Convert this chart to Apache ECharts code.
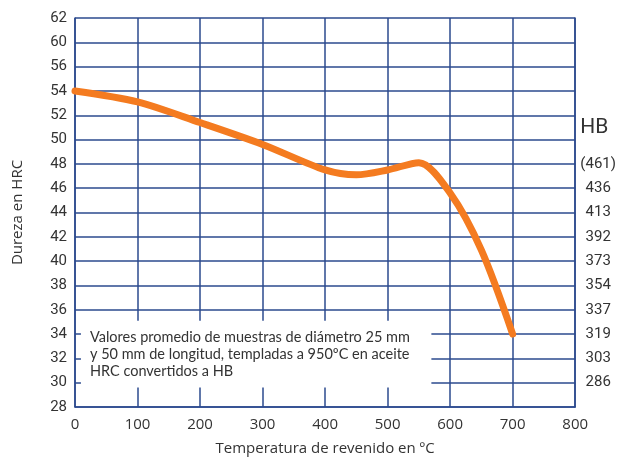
<!DOCTYPE html>
<html>
<head>
<meta charset="utf-8">
<script src="https://cdn.jsdelivr.net/npm/echarts@6/dist/echarts.min.js"></script>
<style>
  html, body { margin: 0; padding: 0; background: #fff; }
  #chart { width: 619px; height: 461px; }
</style>
</head>
<body>
<div id="chart"></div>
<script type="text/javascript">
    // temperatura de revenido (ºC) / dureza HRC
    var temps = [0, 100, 200, 300, 400, 450, 500, 550, 600, 650, 700];
    var hrc   = [54, 53.1, 51.4, 49.6, 47.5, 47.1, 47.5, 48.1, 45.6, 40.9, 34];

    // etiquetas tal como aparecen en el original (sin 58)
    var yTickLabels = ['28', '30', '32', '34', '36', '38', '40', '42', '44', '46', '48', '50', '52', '54', '56', '60', '62'];
    var hbTicks  = [30, 32, 34, 36, 38, 40, 42, 44, 46, 48];
    var hbLabels = ['286', '303', '319', '337', '354', '373', '392', '413', '436', '(461)'];

    var notaLines = [
        'Valores promedio de muestras de diámetro 25 mm',
        'y 50 mm de longitud, templadas a 950ºC en aceite',
        'HRC convertidos a HB'
    ];

    var gridColor = '#2b4a8e';
    var textColor = '#333';

    var chart = echarts.init(document.getElementById('chart'));

    var option = {
        animation: false,
        textStyle: { fontFamily: 'Open Sans' },
        grid: { left: 75, right: 41, top: 18, bottom: 53, containLabel: false },
        xAxis: {
            type: 'value',
            min: 0, max: 800, interval: 100,
            name: 'Temperatura de revenido en ºC',
            nameLocation: 'middle',
            nameGap: 34,
            nameTextStyle: { fontSize: 15, color: textColor, fontFamily: 'Open Sans' },
            axisLine: { show: true, lineStyle: { color: gridColor, width: 1.5 } },
            axisTick: { show: false },
            axisLabel: { fontSize: 15, color: textColor, margin: 10, fontFamily: 'Open Sans' },
            splitLine: { show: true, lineStyle: { color: gridColor, width: 1.5 } }
        },
        yAxis: [{
            type: 'value',
            min: 28, max: 60, interval: 2,
            name: 'Dureza en HRC',
            nameLocation: 'middle',
            nameGap: 50,
            nameTextStyle: { fontSize: 15, color: textColor, fontFamily: 'Open Sans' },
            axisLine: { show: true, lineStyle: { color: gridColor, width: 1.5 } },
            axisTick: { show: false },
            axisLabel: {
                fontSize: 15, color: textColor, margin: 8, fontFamily: 'Roboto',
                formatter: function (v) { return yTickLabels[Math.round((v - 28) / 2)]; }
            },
            splitLine: { show: true, lineStyle: { color: gridColor, width: 1.5 } }
        }, {
            type: 'value',
            position: 'right',
            min: 28, max: 60, interval: 2,
            axisLine: { show: true, lineStyle: { color: gridColor, width: 1.5 } },
            axisTick: { show: false },
            axisLabel: {
                fontSize: 15, color: textColor, margin: 23, align: 'center', fontFamily: 'Roboto',
                formatter: function (v) {
                    var i = hbTicks.indexOf(v);
                    return i >= 0 ? hbLabels[i] : '';
                }
            },
            splitLine: { show: false }
        }],
        series: [{
            type: 'line',
            data: temps.map(function (t, i) { return [t, hrc[i]]; }),
            smooth: 0.3,
            symbol: 'none',
            lineStyle: { color: '#f47b20', width: 7, cap: 'round', join: 'round' },
            markArea: {
                silent: true,
                itemStyle: { color: '#fff' },
                label: {
                    show: true,
                    position: 'insideLeft',
                    distance: 9,
                    fontSize: 14.5,
                    lineHeight: 17,
                    color: textColor,
                    fontFamily: 'Lato',
                    formatter: notaLines.join('\n')
                },
                data: [[{ coord: [9.5, 35.1] }, { coord: [570, 29.6] }]]
            }
        }]
    };

    chart.setOption(option);

    // título "HB" de la escala derecha
    var hbPos = chart.convertToPixel({ gridIndex: 0 }, [800, 51]);
    chart.setOption({
        graphic: [{
            type: 'text',
            x: hbPos[0] + 19,
            y: hbPos[1],
            style: {
                text: 'HB', fontSize: 21, fill: textColor, fontFamily: 'Roboto',
                align: 'center', verticalAlign: 'middle'
            }
        }]
    });
</script>
</body>
</html>
